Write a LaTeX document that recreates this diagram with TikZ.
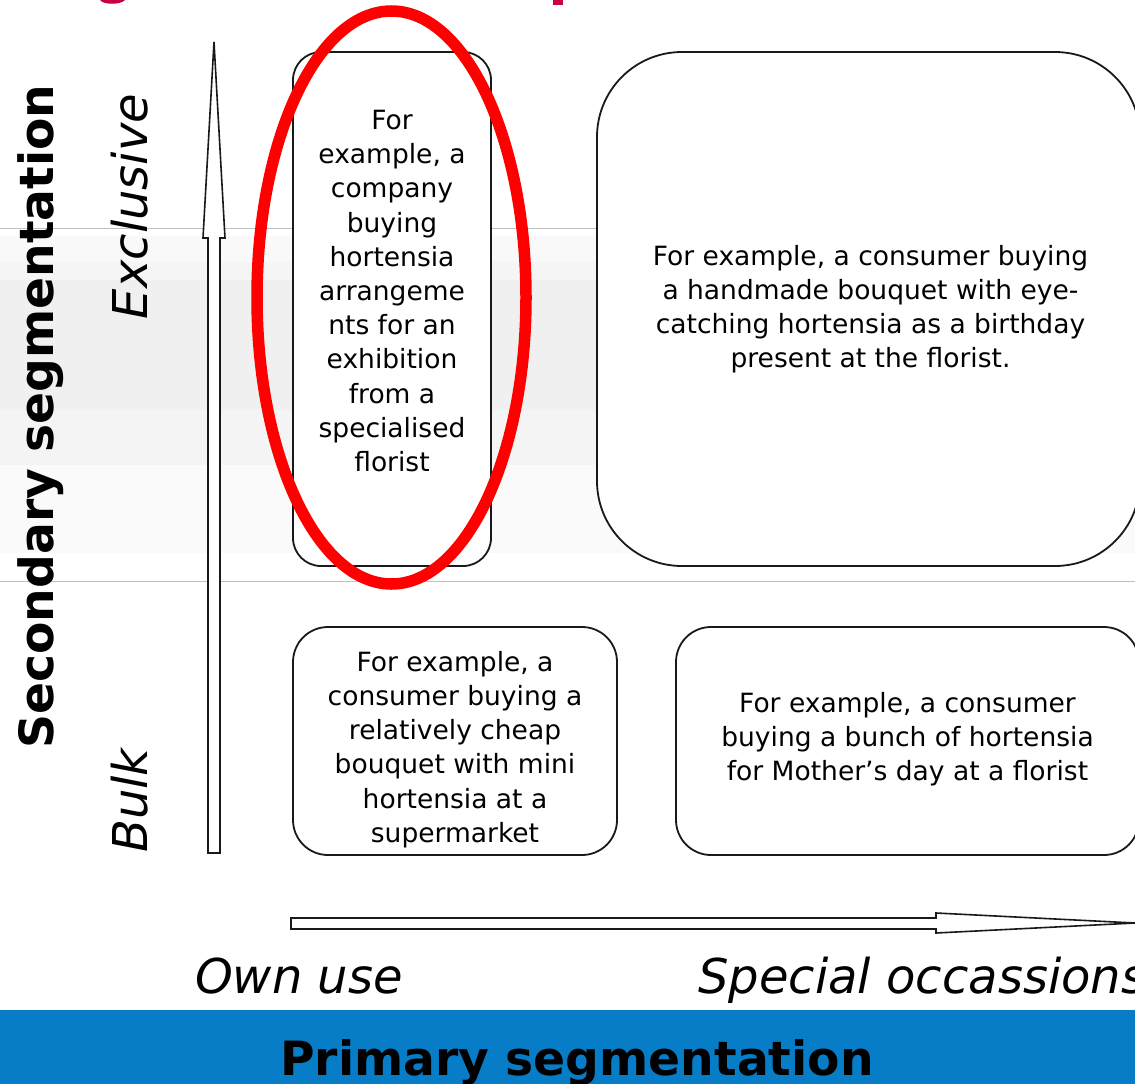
\documentclass[tikz,border=0pt]{standalone}
\usepackage{fontspec}
\setmainfont{DejaVu Sans}
\usetikzlibrary{positioning, shapes.geometric}
\definecolor{barblue}{RGB}{6,125,198}
\definecolor{titlered}{RGB}{200,0,70}
\definecolor{rulegray}{RGB}{192,192,192}

\begin{document}
\begin{tikzpicture}[x=1pt, y=-1pt,
    card/.style={draw=black!90, line width=1.8pt, fill=white, inner sep=0pt, outer sep=0pt},
    cardtext/.style={align=center, inner sep=0pt, font=\fontsize{26.5}{34.2}\selectfont},
    axislabel/.style={inner sep=0pt, font=\fontsize{48}{48}\selectfont\itshape},
    axistitle/.style={inner sep=0pt, font=\fontsize{47.2}{48}\selectfont\bfseries},
    axisarrow/.style={draw=black!90, line width=1.6pt, fill=white},
    hilite/.style={ellipse, draw=red, line width=11.5pt, minimum width=269pt, minimum height=573pt, inner sep=0pt}]
    \useasboundingbox (0,0) rectangle (1135,1084);

    %background bands
    \foreach \ytop/\ybot/\tone in {236/262/2.4, 262/280/3.9, 280/410/5.9, 410/465/4.3, 465/553/2}
        \fill[black!\tone] (0,\ytop) rectangle (1135,\ybot);
    \draw[rulegray, line width=1pt] (0,228) -- (1135,228) (0,581) -- (1135,581);
    \fill[barblue] (0,1010) rectangle (1135,1084);
    \fill[titlered] (100,0) .. controls (103,5) and (121,5) .. (125,0) -- cycle;
    \fill[titlered] (553,0) rectangle (563,5);

    %axes
    \draw[axisarrow] (208,853) -- (220,853) -- (220,238) -- (225,238) -- (214,42) -- (203,238) -- (208,238) -- cycle;
    \draw[axisarrow] (291,918) -- (936,918) -- (936,913) -- (1135,923) -- (936,933) -- (936,929) -- (291,929) -- cycle;

    %top row
    \node[card, minimum width=198pt, minimum height=514pt, rounded corners=28pt] (excl) at (392,309) {};
    \node[card, minimum width=543pt, minimum height=514pt, rounded corners=85pt] (exclocc) [right=106pt of excl] {};
    %bottom row
    \node[card, minimum width=324pt, minimum height=228pt, rounded corners=35pt] (bulk) [below=61pt of excl.south west, anchor=north west] {};
    \node[card, minimum width=463pt, minimum height=228pt, rounded corners=35pt] (bulkocc) [right=59pt of bulk] {};

    \node[cardtext] (excltxt) at ([yshift=18pt]excl.center) {For\\example, a\\company\\buying\\hortensia\\arrangeme\\nts for an\\exhibition\\from a\\specialised\\florist};
    \node[cardtext] (exclocctxt) at ([xshift=2pt]exclocc.center) {For example, a consumer buying\\a handmade bouquet with eye-\\catching hortensia as a birthday\\present at the florist.};
    \node[cardtext] (bulktxt) at ([yshift=-8.5pt]bulk.center) {For example, a\\consumer buying a\\relatively cheap\\bouquet with mini\\hortensia at a\\supermarket};
    \node[cardtext] (bulkocctxt) at ([yshift=2pt]bulkocc.center) {For example, a consumer\\buying a bunch of hortensia\\for Mother’s day at a florist};

    %labels
    \node[axislabel, rotate=90, anchor=base] (exclusive) at (147,206.5) {Exclusive};
    \node[axislabel, rotate=90, anchor=base] (bulklbl) at (147,800.5) {Bulk};
    \node[axistitle, rotate=90, anchor=base] (secondary) at (53,416.5) {Secondary segmentation};
    \node[axislabel, anchor=base west] (ownuse) at (195,993) {Own use};
    \node[axislabel, anchor=base west] (special) at (698,993) {Special occassions};
    \node[axistitle, anchor=base] (primary) at (577,1075) {Primary segmentation};

    \node[hilite] (focus) at (391.5,297.5) {};
\end{tikzpicture}
\end{document}
